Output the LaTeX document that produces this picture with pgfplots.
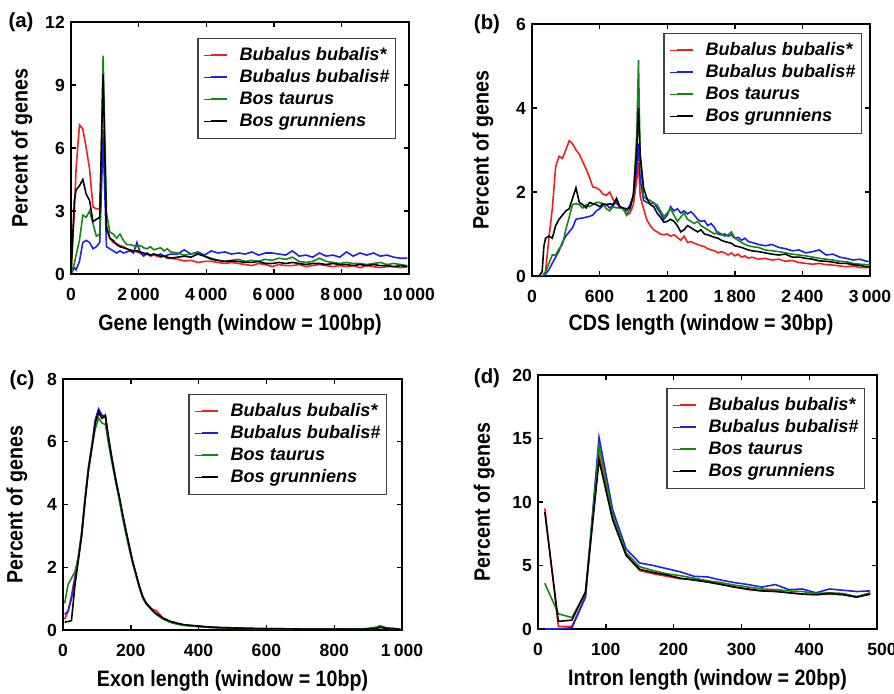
\documentclass[border=0pt]{standalone}
\usepackage{fontspec}
\setmainfont{Liberation Sans}
\newfontfamily\condensed[FakeStretch=0.88]{Liberation Sans}
\usepackage{pgfplots}
\pgfplotsset{compat=1.18}
\usepackage{pgfplotstable}

\definecolor{cR}{RGB}{240,30,30}
\definecolor{cB}{RGB}{30,30,230}
\definecolor{cG}{RGB}{20,135,20}
\definecolor{cK}{RGB}{0,0,0}

% gene length, window = 100bp
\pgfplotstableread{
x     r     b     g     k
0     0     0     0     0
100   3.0   0.3   0.5   3.5
150   5.0   0.2   0.9   4.0
250   7.1   0.6   1.6   4.2
350   6.9   1.5   2.8   4.5
450   6.0   1.6   2.7   3.8
550   5.0   1.5   3.0   3.5
650   3.2   1.2   2.4   2.5
750   3.1   1.3   1.8   2.6
850   3.1   1.5   1.9   2.7
950   6.9   6.5   10.4  9.5
1050  2.3   1.3   2.9   2.2
1150  1.7   1.2   2.0   1.7
1250  1.5   1.1   1.9   1.6
1350  1.45  1.0   1.7   1.4
1450  1.35  1.1   1.9   1.3
1550  1.3   1.0   1.6   1.25
1650  1.2   1.05  1.4   1.2
1750  1.1   1.1   1.4   1.15
1850  1.1   1.0   1.35  1.1
1950  1.05  1.5   1.3   1.1
2050  1.0   1.0   1.35  1.05
2150  0.9   0.85  1.25  1.0
2250  0.95  1.0   1.2   0.95
2350  0.85  0.9   1.3   0.9
2450  0.9   0.95  1.15  0.95
2550  0.85  0.9   1.2   0.9
2650  0.8   0.95  1.25  0.85
2750  0.85  0.85  1.1   0.85
2850  0.75  0.9   1.2   0.8
2950  0.75  0.95  1.05  0.75
3150  0.7   0.95  1.0   0.8
3350  0.62  1.15  0.9   0.85
3550  0.65  0.95  0.95  0.8
3750  0.55  1.05  1.0   0.95
3950  0.6   0.9   0.85  0.85
4150  0.6   1.1   0.75  0.7
4350  0.55  1.0   0.65  0.65
4550  0.5   1.05  0.6   0.6
4750  0.55  0.95  0.65  0.62
4950  0.5   1.0   0.7   0.6
5150  0.45  0.95  0.6   0.55
5350  0.4   1.05  0.65  0.55
5550  0.5   0.9   0.6   0.6
5750  0.45  1.0   0.7   0.5
5950  0.35  1.0   0.65  0.5
6150  0.45  0.95  0.75  0.55
6350  0.4   0.9   0.7   0.5
6550  0.4   1.1   0.8   0.55
6750  0.45  0.85  0.6   0.5
6950  0.35  0.9   0.55  0.45
7150  0.4   0.8   0.6   0.5
7350  0.45  1.0   0.75  0.5
7550  0.4   0.85  0.6   0.45
7750  0.35  0.9   0.55  0.5
7950  0.4   0.8   0.5   0.45
8150  0.35  1.05  0.55  0.45
8350  0.4   0.85  0.5   0.4
8550  0.3   1.0   0.5   0.45
8750  0.4   0.9   0.45  0.4
8950  0.35  1.0   0.5   0.45
9150  0.3   0.85  0.55  0.4
9350  0.35  0.9   0.45  0.4
9550  0.35  0.8   0.5   0.35
9750  0.3   0.75  0.45  0.4
9950  0.35  0.75  0.4   0.35
}\tabA

% CDS length, window = 30bp
\pgfplotstableread{
x     r     b     g     k
0     0     0     0     0
60    0     0     0     0
90    0     0     0     0.1
105   0     0     0.05  0.7
120   0.1   0.05  0.1   0.9
150   0.9   0.15  0.3   0.95
180   1.6   0.3   0.5   0.9
210   2.6   0.45  0.5   1.2
240   2.85  0.6   0.65  1.35
270   2.8   0.8   0.75  1.45
300   3.0   0.95  1.1   1.55
330   3.22  1.05  1.4   1.6
360   3.15  1.15  1.7   1.85
390   3.0   1.35  1.72  2.1
420   2.9   1.37  1.7   1.75
450   2.72  1.38  1.62  1.7
480   2.55  1.4   1.7   1.62
510   2.35  1.42  1.65  1.75
540   2.12  1.45  1.7   1.72
570   2.1   1.55  1.75  1.7
600   2.05  1.6   1.75  1.65
630   1.95  1.68  1.72  1.72
660   1.92  1.7   1.6   1.7
690   2.0   1.62  1.55  1.72
720   1.82  1.68  1.65  1.7
750   1.72  1.78  1.62  1.85
780   1.65  1.62  1.62  1.65
810   1.6   1.6   1.6   1.62
840   1.45  1.55  1.45  1.6
870   1.5   1.7   1.6   1.62
900   1.7   1.9   1.9   1.95
930   2.3   2.6   3.4   3.0
945   2.7   3.15  5.14  4.0
960   1.9   2.3   2.8   2.9
990   1.6   1.8   1.9   2.1
1020  1.33  1.75  1.82  1.85
1050  1.2   1.72  1.8   1.7
1080  1.1   1.75  1.72  1.65
1110  1.05  1.62  1.7   1.5
1140  1.0   1.5   1.55  1.4
1170  0.98  1.35  1.42  1.28
1200  1.0   1.45  1.5   1.3
1230  0.95  1.65  1.6   1.35
1260  0.98  1.55  1.45  1.3
1290  0.92  1.6   1.3   1.2
1320  0.85  1.5   1.4   1.05
1350  0.95  1.55  1.5   1.1
1380  0.8   1.48  1.35  1.2
1410  0.82  1.53  1.3   1.15
1440  0.78  1.45  1.25  1.1
1470  0.75  1.35  1.3   1.05
1500  0.72  1.3   1.2   1.1
1530  0.7   1.32  1.15  1.0
1560  0.65  1.2   1.1   0.98
1590  0.62  1.25  1.05  0.95
1620  0.6   1.15  1.0   0.92
1650  0.55  1.0   1.05  0.9
1680  0.58  0.98  1.0   0.85
1710  0.55  1.0   0.95  0.82
1740  0.5   0.95  0.98  0.8
1770  0.55  0.98  1.05  0.78
1800  0.48  0.9   0.9   0.72
1830  0.52  0.92  0.85  0.7
1860  0.45  0.85  0.8   0.68
1890  0.48  0.9   0.75  0.65
1920  0.42  0.82  0.72  0.62
1950  0.45  0.8   0.7   0.6
2010  0.4   0.75  0.68  0.58
2070  0.42  0.72  0.62  0.55
2130  0.38  0.75  0.6   0.52
2190  0.4   0.68  0.58  0.5
2250  0.35  0.65  0.55  0.52
2310  0.37  0.6   0.52  0.45
2370  0.32  0.62  0.5   0.45
2430  0.3   0.55  0.48  0.42
2490  0.28  0.58  0.45  0.4
2550  0.3   0.62  0.42  0.36
2610  0.27  0.5   0.4   0.35
2670  0.26  0.52  0.38  0.33
2730  0.24  0.45  0.35  0.3
2790  0.22  0.42  0.34  0.3
2850  0.24  0.38  0.3   0.27
2910  0.2   0.4   0.28  0.25
2970  0.2   0.35  0.27  0.22
3000  0.2   0.35  0.27  0.22
}\tabB

% exon length, window = 10bp
\pgfplotstableread{
x     r     b     g     k
5     0.35  0.5   0.85  0.25
15    0.6   0.6   1.45  0.27
25    1.1   1.0   1.65  0.3
35    1.7   1.6   1.85  1.4
45    2.3   2.3   2.3   2.2
55    3.1   3.1   3.0   3.0
65    4.2   4.2   4.1   4.1
75    5.2   5.1   5.1   5.1
85    5.9   5.8   5.8   5.8
95    6.6   6.7   6.4   6.6
105   6.9   7.05  6.75  6.95
115   6.75  6.85  6.6   6.75
125   6.8   6.8   6.55  6.85
135   6.0   6.1   5.9   6.05
145   5.4   5.45  5.3   5.4
155   4.8   4.85  4.75  4.8
165   4.25  4.3   4.2   4.3
175   3.7   3.7   3.6   3.75
185   3.2   3.15  3.1   3.2
195   2.7   2.65  2.6   2.7
205   2.2   2.2   2.15  2.2
215   1.8   1.78  1.75  1.8
225   1.4   1.4   1.35  1.4
235   1.08  1.05  1.02  1.06
245   0.88  0.85  0.84  0.86
255   0.74  0.72  0.72  0.74
265   0.65  0.6   0.6   0.62
275   0.62  0.52  0.5   0.52
285   0.5   0.45  0.42  0.45
295   0.38  0.36  0.35  0.38
315   0.28  0.26  0.25  0.28
335   0.22  0.2   0.19  0.22
355   0.17  0.16  0.15  0.17
375   0.14  0.14  0.13  0.15
395   0.13  0.12  0.11  0.13
425   0.1   0.09  0.09  0.1
455   0.08  0.08  0.07  0.08
495   0.07  0.06  0.06  0.07
545   0.05  0.05  0.05  0.05
595   0.04  0.04  0.04  0.04
645   0.04  0.03  0.03  0.04
695   0.03  0.03  0.03  0.03
745   0.03  0.03  0.03  0.03
795   0.03  0.03  0.03  0.03
845   0.03  0.03  0.03  0.03
895   0.03  0.04  0.04  0.03
925   0.05  0.08  0.09  0.05
935   0.08  0.13  0.13  0.09
945   0.07  0.1   0.08  0.07
955   0.05  0.06  0.05  0.05
975   0.04  0.05  0.04  0.04
995   0.02  0.02  0.02  0.02
}\tabC

% intron length, window = 20bp
\pgfplotstableread{
x     r     b     g     k
10    9.5   0.0   3.6   9.2
30    0.2   0.0   1.2   0.6
50    0.2   0.1   0.9   0.7
70    2.6   2.5   2.9   2.9
90    13.7  15.1  14.4  13.3
110   8.8   9.4   9.0   8.6
130   5.8   6.3   6.0   5.8
150   4.6   5.2   4.9   4.7
170   4.35  5.0   4.6   4.45
190   4.15  4.75  4.35  4.25
210   3.95  4.5   4.2   4.0
230   3.9   4.15  4.0   3.85
250   3.7   4.1   3.8   3.7
270   3.55  3.85  3.65  3.5
290   3.3   3.65  3.45  3.3
310   3.1   3.5   3.3   3.15
330   3.0   3.3   3.15  3.0
350   3.0   3.5   3.1   2.95
370   2.85  3.1   3.0   2.85
390   2.75  3.15  2.95  2.75
410   2.7   2.85  2.8   2.7
430   2.75  3.15  2.85  2.8
450   2.7   3.05  2.8   2.7
470   2.55  2.95  2.55  2.5
490   2.75  3.0   2.85  2.75
}\tabD

\pgfplotsset{
  panel/.style={
    scale only axis,
    anchor=south west,
    axis line style={line width=1pt},
    tick align=inside,
    major tick length=0.1cm,
    tick style={line width=0.8pt, black},
    scaled ticks=false,
    /pgf/number format/assume math mode=true,
    /pgf/number format/1000 sep={\hspace{0.18em}},
    tick label style={font=\fontsize{10}{12}\selectfont\bfseries},
    x tick label style={yshift=-0.16cm},
    y tick label style={xshift=0cm},
    label style={font=\condensed\fontsize{12.7}{15}\selectfont\bfseries},
    xlabel style={at={(axis description cs:0.5,0)}, anchor=center, yshift=-1.02cm},
    ylabel={Percent of genes},
    legend cell align=left,
    legend style={at={(axis description cs:1,1)}, anchor=north east,
      draw=black!75, line width=0.8pt, fill=white,
      font=\fontsize{10.3}{12}\selectfont\bfseries\itshape,
      inner xsep=0.1cm, inner ysep=4.3pt, row sep=1.8pt, column sep=0.22cm,
      nodes={inner sep=0.5pt, text height=0.75em, text depth=0.22em}},
    legend image code/.code={\path (0cm,0cm) -- (0.14cm,0cm); \draw[##1, line width=1.15pt] (0.14cm,0.02cm) -- (0.46cm,0.02cm);},
  },
}

\begin{document}
\begin{tikzpicture}
\useasboundingbox (0,0) rectangle (17.88cm,13.86cm);

% (a)
\begin{axis}[panel, at={(1.42cm,8.38cm)}, width=6.76cm, height=5.04cm,
  xmin=0, xmax=10000, ymin=0, ymax=12,
  xtick={0,2000,4000,6000,8000,10000}, ytick={0,3,6,9,12},
  xlabel={Gene length (window = 100bp)},
  ylabel style={at={(axis description cs:-0.145,0.5)}, anchor=center},
  legend style={xshift=-0.26cm, yshift=-0.32cm}]
\addplot[color=cR, line width=0.9pt] table[x=x,y=r]{\tabA};
\addplot[color=cB, line width=0.9pt] table[x=x,y=b]{\tabA};
\addplot[color=cG, line width=0.9pt] table[x=x,y=g]{\tabA};
\addplot[color=cK, line width=0.9pt] table[x=x,y=k]{\tabA};
\legend{Bubalus bubalis*, Bubalus bubalis\#, Bos taurus, Bos grunniens}
\end{axis}

% (b)
\begin{axis}[panel, at={(10.64cm,8.34cm)}, width=6.76cm, height=5.04cm,
  xmin=0, xmax=3000, ymin=0, ymax=6,
  xtick={0,600,1200,1800,2400,3000}, ytick={0,2,4,6},
  xlabel={CDS length (window = 30bp)},
  xlabel style={yshift=0.04cm},
  ylabel style={at={(axis description cs:-0.145,0.5)}, anchor=center},
  legend style={xshift=-0.16cm, yshift=-0.18cm}]
\addplot[color=cR, line width=0.9pt] table[x=x,y=r]{\tabB};
\addplot[color=cB, line width=0.9pt] table[x=x,y=b]{\tabB};
\addplot[color=cG, line width=0.9pt] table[x=x,y=g]{\tabB};
\addplot[color=cK, line width=0.9pt] table[x=x,y=k]{\tabB};
\legend{Bubalus bubalis*, Bubalus bubalis\#, Bos taurus, Bos grunniens}
\end{axis}

% (c)
\begin{axis}[panel, at={(1.26cm,1.26cm)}, width=6.78cm, height=5.02cm,
  xmin=0, xmax=1000, ymin=0, ymax=8,
  xtick={0,200,400,600,800,1000}, ytick={0,2,4,6,8},
  xlabel={Exon length (window = 10bp)},
  ylabel style={at={(axis description cs:-0.136,0.5)}, anchor=center},
  legend style={xshift=-0.30cm, yshift=-0.30cm}]
\addplot[color=cR, line width=0.9pt] table[x=x,y=r]{\tabC};
\addplot[color=cB, line width=0.9pt] table[x=x,y=b]{\tabC};
\addplot[color=cG, line width=0.9pt] table[x=x,y=g]{\tabC};
\addplot[color=cK, line width=0.9pt] table[x=x,y=k]{\tabC};
\legend{Bubalus bubalis*, Bubalus bubalis\#, Bos taurus, Bos grunniens}
\end{axis}

% (d)
\begin{axis}[panel, at={(10.76cm,1.28cm)}, width=6.78cm, height=5.08cm,
  xmin=0, xmax=500, ymin=0, ymax=20,
  xtick={0,100,200,300,400},
  extra x ticks={500}, extra x tick labels={500},
  extra x tick style={tick label style={xshift=0.1cm, color=black}},
  ytick={0,5,10,15,20},
  xlabel={Intron length (window = 20bp)},
  ylabel style={at={(axis description cs:-0.159,0.5)}, anchor=center},
  legend style={xshift=-0.24cm, yshift=-0.26cm}]
\addplot[color=cR, line width=0.9pt] table[x=x,y=r]{\tabD};
\addplot[color=cB, line width=0.9pt] table[x=x,y=b]{\tabD};
\addplot[color=cG, line width=0.9pt] table[x=x,y=g]{\tabD};
\addplot[color=cK, line width=0.9pt] table[x=x,y=k]{\tabD};
\legend{Bubalus bubalis*, Bubalus bubalis\#, Bos taurus, Bos grunniens}
\end{axis}

\begin{scope}[every node/.style={font=\fontsize{11.6}{13}\selectfont\bfseries, inner sep=0pt}]
\node at (0.42cm,13.42cm) {(a)};
\node at (9.74cm,13.38cm) {(b)};
\node at (0.44cm,6.26cm) {(c)};
\node at (9.74cm,6.30cm) {(d)};
\end{scope}
\end{tikzpicture}
\end{document}
